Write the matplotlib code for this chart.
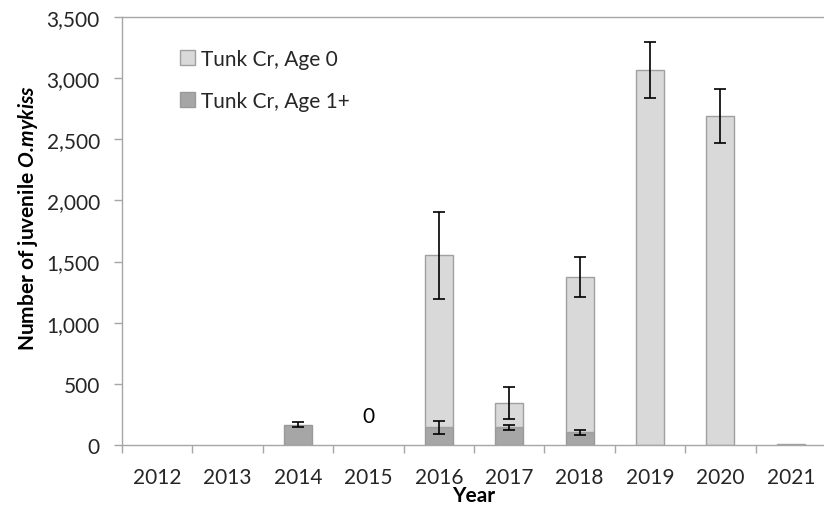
import numpy as np
import matplotlib
matplotlib.use("Agg")
import matplotlib.pyplot as plt
from matplotlib.ticker import FuncFormatter, FixedLocator

plt.rcParams['font.family'] = ['Lato', 'DejaVu Sans']
plt.rcParams['mathtext.fontset'] = 'custom'
plt.rcParams['mathtext.rm'] = 'Lato:bold'
plt.rcParams['mathtext.bf'] = 'Lato:bold'
plt.rcParams['mathtext.bfit'] = 'Lato:bold:italic'

# data
years = ["2012", "2013", "2014", "2015", "2016", "2017", "2018", "2019", "2020", "2021"]
age1_plus = [0, 0, 165, 0, 145, 145, 103, 0, 0, 0]
age0 = [0, 0, 0, 0, 1406, 201, 1271, 3066, 2688, 10]
err_total = [0, 0, 0, 0, 357, 131, 165, 230, 222, 0]
err_age1 = [0, 0, 20, 0, 55, 20, 23, 0, 0, 0]
zero_note_year = "2015"
zero_note_y = 240

text_col = "#262626"
axis_col = "#a6a6a6"

fig = plt.figure(figsize=(8.24, 5.06), dpi=100)
ax = fig.add_axes([122 / 824, 1 - 446 / 506, 704 / 824, 428 / 506])

x = np.arange(len(years))
a1 = np.array(age1_plus, dtype=float)
a0 = np.array(age0, dtype=float)
total = a1 + a0

# skip empty bars so no stray edge lines sit on the baseline
m1 = a1 > 0
m0 = a0 > 0
ax.bar(x[m1], a1[m1], width=0.4, color="#a6a6a6", edgecolor="#999999", linewidth=1,
       label="Tunk Cr, Age 1+", zorder=2)
ax.bar(x[m0], a0[m0], width=0.4, bottom=a1[m0], color="#d9d9d9", edgecolor="#a0a0a0",
       linewidth=1, label="Tunk Cr, Age 0", zorder=2)

et = np.array(err_total, dtype=float)
m = et > 0
ax.errorbar(x[m], total[m], yerr=et[m], fmt="none", ecolor="black", elinewidth=1.2,
            capsize=4.5, capthick=1.2, zorder=3)
ea = np.array(err_age1, dtype=float)
m = ea > 0
ax.errorbar(x[m], a1[m], yerr=ea[m], fmt="none", ecolor="black", elinewidth=1.2,
            capsize=4.5, capthick=1.2, zorder=3)

ax.text(years.index(zero_note_year), zero_note_y, "0", ha="center", va="center",
        fontsize=15, color="black")

ax.set_xlim(-0.5, len(years) - 0.5)
ax.set_ylim(0, 3500)
ax.set_yticks(np.arange(0, 3501, 500))
ax.yaxis.set_major_formatter(FuncFormatter(lambda v, p: f"{int(v):,}"))

ax.xaxis.set_major_locator(FixedLocator(np.arange(-0.5, len(years), 1.0)))
ax.xaxis.set_minor_locator(FixedLocator(x))
ax.set_xticklabels([], minor=False)
ax.set_xticklabels(years, minor=True)
ax.tick_params(axis="x", which="major", length=6, width=1, color=axis_col, direction="out")
ax.tick_params(axis="x", which="minor", length=0, pad=16, labelsize=15, labelcolor=text_col)
ax.tick_params(axis="y", length=6, width=1, color=axis_col, direction="out", pad=10,
               labelsize=15, labelcolor=text_col)

for s in ax.spines.values():
    s.set_color(axis_col)
    s.set_linewidth(1)

ax.set_xlabel("Year", fontsize=15, fontweight="bold", color="black", va="top")
ax.xaxis.set_label_coords(0.5, -0.093)
ax.set_ylabel(r"Number of juvenile $\mathbfit{O.\!mykiss}$", fontsize=15,
              fontweight="bold", color="black")
ax.yaxis.set_label_coords(-0.116, 0.533)

h, l = ax.get_legend_handles_labels()
ax.legend(h[::-1], l[::-1], loc="upper left", bbox_to_anchor=(180 / 824, 1 - 50 / 506),
          bbox_transform=fig.transFigure, frameon=False, fontsize=15,
          handlelength=0.7, handleheight=0.7, handletextpad=0.3, labelspacing=1.05,
          borderpad=0, borderaxespad=0, labelcolor=text_col)

fig.savefig("out.png", dpi=100)
